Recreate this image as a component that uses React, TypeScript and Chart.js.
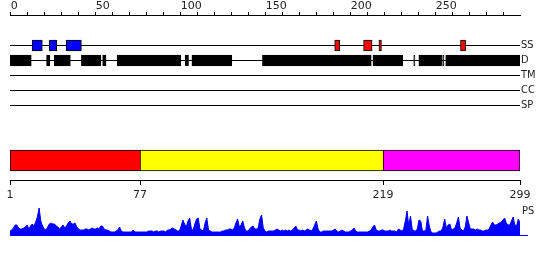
import React, { useEffect, useRef } from 'react';
import { Chart, registerables } from 'chart.js';

Chart.register(...registerables);

// ---------- data ----------
const TRACKS = ['SS', 'D', 'TM', 'CC', 'SP'];

// position ruler ticks (labelled every 50)
const RULER_TICKS = [0, 10, 20, 30, 40, 50, 60, 70, 80, 90, 100, 110, 120, 130, 140, 150, 160, 170, 180, 190, 200, 210, 220, 230, 240, 250, 260, 270, 280, 290];
const RULER_LABEL_EVERY = 50;

// secondary structure segments (axis positions, start/end)
const SS_BLUE = [
  [12.5, 18.5],
  [22.5, 27],
  [32.5, 41.5],
];
const SS_RED = [
  [190.5, 193.5],
  [207.5, 212.5],
  [216.5, 218],
  [264.5, 267.5],
];
// disorder segments
const DISORDER = [
  [-0.5, 12],
  [21, 23],
  [25.5, 35],
  [41.5, 53],
  [54, 56],
  [62.5, 100],
  [102.5, 104.5],
  [106.5, 130],
  [148, 212],
  [213, 230.5],
  [237, 237.7],
  [240, 253.4],
  [254, 254.8],
  [255.8, 299.5],
];

// domain boundaries and colours
const DOMAIN_BOUNDS = [1, 77, 219, 299];
const DOMAIN_COLORS = ['#ff0000', '#ffff00', '#ff00ff'];

// profile track
const PS_LABEL = 'PS';
const PS_VALUES = [
  4, 5, 7, 10, 10, 7, 6, 6, 7, 8,
  10, 6, 9, 11, 9, 13, 18, 27, 14, 9,
  6, 5, 8, 11, 12, 11, 11, 9, 8, 6,
  8, 10, 7, 9, 12, 14, 11, 11, 12, 8,
  6, 5, 5, 5, 6, 6, 5, 6, 7, 6,
  6, 7, 6, 9, 9, 6, 5, 5, 4, 3,
  3, 3, 4, 5, 8, 4, 3, 3, 3, 3,
  3, 3, 5, 3, 3, 3, 3, 3, 3, 3,
  3, 4, 4, 4, 3, 4, 4, 3, 4, 4,
  4, 3, 5, 5, 6, 7, 6, 5, 4, 4,
  9, 15, 11, 8, 14, 17, 6, 5, 11, 16,
  17, 6, 5, 4, 12, 17, 5, 4, 3, 3,
  3, 3, 3, 3, 4, 4, 5, 5, 6, 6,
  5, 7, 12, 16, 8, 10, 14, 7, 4, 4,
  6, 8, 9, 6, 6, 7, 16, 20, 7, 4,
  3, 4, 4, 4, 4, 5, 6, 5, 4, 5,
  4, 5, 4, 5, 4, 5, 7, 9, 5, 5,
  4, 5, 4, 5, 6, 5, 4, 6, 10, 14,
  6, 3, 3, 4, 4, 4, 4, 4, 4, 5,
  6, 4, 3, 4, 5, 4, 3, 3, 3, 4,
  5, 7, 4, 3, 3, 3, 3, 3, 3, 3,
  4, 5, 8, 10, 5, 4, 4, 5, 5, 4,
  4, 4, 5, 4, 4, 4, 3, 6, 5, 4,
  6, 14, 24, 9, 19, 6, 4, 4, 6, 15,
  14, 4, 4, 5, 19, 9, 3, 2, 2, 2,
  3, 4, 4, 8, 16, 7, 10, 11, 5, 6,
  7, 12, 18, 7, 5, 4, 8, 19, 12, 6,
  6, 6, 5, 6, 5, 5, 4, 4, 5, 5,
  6, 10, 13, 10, 10, 11, 12, 13, 15, 17,
  12, 10, 10, 14, 18, 10, 9, 16, 12,
];

// ---------- styling / layout constants ----------
const NUM_FONT = { family: "'DejaVu Sans', sans-serif", size: 11, lineHeight: 1 };
const LABEL_FONT = { family: "'DejaVu Sans Condensed', 'DejaVu Sans', sans-serif", size: 11, lineHeight: 1 };
const TEXT_COLOR = '#222';
const BLUE = '#0000ff';
const CLEAR = 'rgba(0,0,0,0)';

const TOP_AXIS_MIN = -0.5;
const TOP_AXIS_MAX = 299.5;
const TRACK_AXIS_MIN = -30.5 / 15;
const TRACK_AXIS_MAX = 4.5;
const PROFILE_Y_MAX = 40;
const PS_LABEL_AT = 24;

const base = {
  responsive: false,
  animation: false as const,
  devicePixelRatio: 1,
  events: [] as any[],
  plugins: { legend: { display: false }, tooltip: { enabled: false }, title: { display: false } },
};

// fix an axis box size and drop its automatic label padding
const fixSize = (w: number | null, h: number | null) => (s: any) => {
  if (w !== null) s.width = w;
  if (h !== null) s.height = h;
  s.paddingTop = 0;
  s.paddingBottom = 0;
  s.paddingLeft = 0;
  s.paddingRight = 0;
};

function featureTrackConfig(): any {
  const seg = (arr: number[][], y: number) => arr.map(([s, e]) => ({ x: [s, e], y }));
  const common = { borderColor: '#000', borderWidth: 1, borderSkipped: false, barThickness: 11, grouped: false };
  return {
    type: 'bar',
    data: {
      datasets: [
        { ...common, data: seg(SS_BLUE, 0), backgroundColor: BLUE },
        { ...common, data: seg(SS_RED, 0), backgroundColor: '#ff0000' },
        { ...common, data: seg(DISORDER, 1), backgroundColor: '#000' },
      ],
    },
    options: {
      ...base,
      indexAxis: 'y',
      layout: { autoPadding: false, padding: { left: 10, right: 0, top: 0, bottom: 0 } },
      scales: {
        x: {
          type: 'linear',
          position: 'top',
          min: TOP_AXIS_MIN,
          max: TOP_AXIS_MAX,
          offset: false,
          afterBuildTicks: (s: any) => {
            s.ticks = RULER_TICKS.map((v) => ({ value: v }));
          },
          ticks: {
            autoSkip: false,
            maxRotation: 0,
            minRotation: 0,
            align: 'start',
            padding: 0,
            font: NUM_FONT,
            color: TEXT_COLOR,
            callback: (v: number) => (v % RULER_LABEL_EVERY === 0 ? String(v) : ''),
          },
          grid: { drawOnChartArea: false, tickLength: 3, color: '#000', offset: false },
          border: { color: '#000' },
          afterFit: fixSize(null, 15),
        },
        y: {
          type: 'linear',
          position: 'right',
          reverse: true,
          offset: false,
          min: TRACK_AXIS_MIN,
          max: TRACK_AXIS_MAX,
          afterBuildTicks: (s: any) => {
            s.ticks = TRACKS.map((_, i) => ({ value: i }));
          },
          ticks: {
            autoSkip: false,
            padding: 1,
            font: LABEL_FONT,
            color: TEXT_COLOR,
            callback: (v: number) => TRACKS[v],
          },
          grid: { color: '#000', lineWidth: 1, drawTicks: false, offset: false },
          border: { display: false },
          afterFit: fixSize(30, null),
        },
      },
    },
  };
}

function domainConfig(): any {
  const last = DOMAIN_BOUNDS.length - 2;
  return {
    type: 'bar',
    data: {
      datasets: [
        {
          data: DOMAIN_BOUNDS.slice(0, -1).map((s, i) => ({ x: [s, DOMAIN_BOUNDS[i + 1]], y: 0 })),
          backgroundColor: DOMAIN_COLORS,
          borderColor: '#000',
          borderWidth: (ctx: any) => ({ top: 1, bottom: 1, left: 1, right: ctx.dataIndex === last ? 1 : 0 }),
          borderSkipped: false,
          barThickness: 21,
          grouped: false,
        },
      ],
    },
    options: {
      ...base,
      indexAxis: 'y',
      layout: { autoPadding: false, padding: { left: 10, right: 30, top: 1, bottom: 0 } },
      scales: {
        x: {
          type: 'linear',
          position: 'bottom',
          min: DOMAIN_BOUNDS[0],
          max: DOMAIN_BOUNDS[DOMAIN_BOUNDS.length - 1],
          offset: false,
          afterBuildTicks: (s: any) => {
            s.ticks = DOMAIN_BOUNDS.map((v) => ({ value: v }));
          },
          ticks: {
            autoSkip: false,
            maxRotation: 0,
            minRotation: 0,
            padding: 5,
            font: NUM_FONT,
            color: TEXT_COLOR,
            callback: (v: number) => String(v),
          },
          grid: { drawOnChartArea: false, tickLength: 5, color: '#000', offset: false },
          border: { color: '#000' },
          afterFit: fixSize(null, 30),
        },
        y: { type: 'linear', min: -1, max: 1, display: false, offset: false, grid: { offset: false } },
      },
    },
  };
}

function profileConfig(): any {
  return {
    type: 'line',
    data: {
      datasets: [
        {
          data: PS_VALUES.map((v, i) => ({ x: i + 1, y: v })),
          fill: 'origin',
          backgroundColor: BLUE,
          borderColor: BLUE,
          borderWidth: 1,
          pointRadius: 0,
          tension: 0,
        },
      ],
    },
    options: {
      ...base,
      layout: { autoPadding: false, padding: { left: 10, right: 0, top: 0, bottom: 1 } },
      scales: {
        x: {
          type: 'linear',
          position: 'bottom',
          min: 1,
          max: PS_VALUES.length,
          ticks: { display: false },
          grid: { drawOnChartArea: false, drawTicks: false },
          border: { color: BLUE },
          afterFit: fixSize(null, 0),
        },
        y: {
          type: 'linear',
          position: 'right',
          min: 0,
          max: PROFILE_Y_MAX,
          afterBuildTicks: (s: any) => {
            s.ticks = [{ value: 0 }, { value: PS_LABEL_AT }];
          },
          ticks: {
            padding: -6,
            font: LABEL_FONT,
            color: TEXT_COLOR,
            callback: (v: number) => (v === PS_LABEL_AT ? PS_LABEL : ''),
          },
          // the baseline continues a few pixels past the end of the profile
          grid: {
            drawOnChartArea: false,
            drawTicks: true,
            tickLength: 8,
            lineWidth: 1,
            color: (ctx: any) => (ctx.tick && ctx.tick.value === 0 ? BLUE : CLEAR),
          },
          border: { display: false },
          afterFit: fixSize(30, null),
        },
      },
    },
  };
}

function ChartCanvas({ top, height, build }: { top: number; height: number; build: () => any }) {
  const ref = useRef<HTMLCanvasElement>(null);
  useEffect(() => {
    const chart = new Chart(ref.current as HTMLCanvasElement, build());
    return () => chart.destroy();
  }, []);
  return (
    <canvas
      ref={ref}
      width={550}
      height={height}
      style={{ position: 'absolute', left: 0, top, width: 550, height, display: 'block' }}
    />
  );
}

export default function App() {
  return (
    <div style={{ position: 'absolute', left: 0, top: 0, width: 550, height: 260, background: '#fff' }}>
      <ChartCanvas top={0} height={113} build={featureTrackConfig} />
      <ChartCanvas top={140} height={70} build={domainConfig} />
      <ChartCanvas top={195} height={41} build={profileConfig} />
    </div>
  );
}
